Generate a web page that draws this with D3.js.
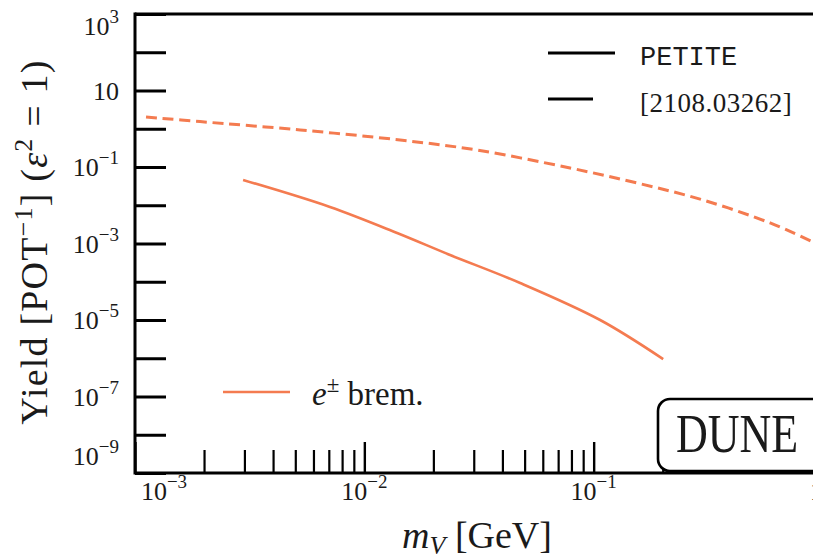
<!DOCTYPE html>
<html>
<head>
<meta charset="utf-8">
<script src="https://cdn.jsdelivr.net/npm/d3@7"></script>
<style>
  html, body { margin: 0; padding: 0; background: #fff; }
  svg { display: block; }
  text { font-family: "Liberation Serif", "DejaVu Serif", serif; fill: #1a1a1a; }
</style>
</head>
<body>
<svg id="chart" width="813" height="559"></svg>
<script>
// ---- data ----
const dashedMass  = [1.117e-3, 1.92e-3, 5.25e-3, 0.01432, 0.0310, 0.0789, 0.1546, 0.300, 0.588, 0.906, 1.0];
const dashedYield = [2.03, 1.54, 0.93, 0.508, 0.278, 0.0942, 0.0382, 0.0137, 3.44e-3, 1.09e-3, 8.0e-4];
const bremMass    = [2.96e-3, 7.08e-3, 0.0139, 0.02366, 0.0478, 0.1067, 0.201];
const bremYield   = [0.0457, 9.0e-3, 1.88e-3, 5.0e-4, 9.27e-5, 1.0e-5, 9.5e-7];
const yTickExps   = [3, 2, 1, 0, -1, -2, -3, -4, -5, -6, -7, -8, -9];
const yLabelExps  = [3, 1, -1, -3, -5, -7, -9];
const xMajorExps  = [-3, -2, -1, 0];
const xMinorMult  = [2, 3, 4, 5, 6, 7, 8, 9];
const legendLabels = ["PETITE", "[2108.03262]"];
const seriesLabel = "brem.";
const detector = "DUNE";

const ORANGE = "#f47b50";
const svg = d3.select("#chart");
svg.append("rect").attr("width", 813).attr("height", 559).attr("fill", "#fff");

const L = 135, R = 823, T = 14, B = 473;
const x = d3.scaleLog().domain([1e-3, 1]).range([L, R]);
const y = d3.scaleLog().domain([1e-9, 1e3]).range([B, T]);

// ---- curves ----
const line = d3.line().x(d => x(d[0])).y(d => y(d[1])).curve(d3.curveCatmullRom.alpha(0.5));
svg.append("path")
  .datum(dashedMass.map((m, i) => [m, dashedYield[i]]))
  .attr("d", line).attr("fill", "none").attr("stroke", ORANGE)
  .attr("stroke-width", 3).attr("stroke-dasharray", "11,5.7");
svg.append("path")
  .datum(bremMass.map((m, i) => [m, bremYield[i]]))
  .attr("d", line).attr("fill", "none").attr("stroke", ORANGE)
  .attr("stroke-width", 2.6);

// ---- axes ticks ----
const yAxis = d3.axisLeft(y).tickValues(yTickExps.map(e => Math.pow(10, e)))
  .tickSize(-31).tickFormat("");
const gy = svg.append("g").attr("transform", `translate(${L},0)`).call(yAxis);
gy.select(".domain").remove();
gy.selectAll(".tick line").attr("stroke", "#000").attr("stroke-width", 3);

const minorVals = [];
[-3, -2, -1].forEach(e => xMinorMult.forEach(k => minorVals.push(k * Math.pow(10, e))));
const gxm = svg.append("g").attr("transform", `translate(0,${B})`)
  .call(d3.axisBottom(x).tickValues(minorVals).tickSize(-23).tickFormat(""));
gxm.select(".domain").remove();
gxm.selectAll(".tick line").attr("stroke", "#000").attr("stroke-width", 2.2);
const gxM = svg.append("g").attr("transform", `translate(0,${B})`)
  .call(d3.axisBottom(x).tickValues(xMajorExps.map(e => Math.pow(10, e))).tickSize(-31).tickFormat(""));
gxM.select(".domain").remove();
gxM.selectAll(".tick line").attr("stroke", "#000").attr("stroke-width", 2.4);

// ---- frame ----
const frame = svg.append("g").attr("stroke", "#000").attr("stroke-width", 3).attr("fill", "none");
frame.append("line").attr("x1", L).attr("x2", L).attr("y1", T - 1.5).attr("y2", B + 1.5);
frame.append("line").attr("x1", L).attr("x2", R).attr("y1", B).attr("y2", B);
frame.append("line").attr("x1", L).attr("x2", R).attr("y1", T).attr("y2", T);
frame.append("line").attr("x1", R).attr("x2", R).attr("y1", T).attr("y2", B);

// ---- tick labels ----
function powLabel(sel, e) {
  sel.append("tspan").text("10");
  if (e !== 1) {
    sel.append("tspan").attr("dy", -12).attr("font-size", 19)
       .text(e < 0 ? "\u2212" + (-e) : String(e));
  }
}
yLabelExps.forEach(e => {
  let ty = y(Math.pow(10, e)) + 9;
  ty = Math.min(Math.max(ty, 35), 465);
  const t = svg.append("text").attr("x", 119).attr("y", ty)
    .attr("text-anchor", "end").attr("font-size", 26);
  powLabel(t, e);
});
xMajorExps.forEach(e => {
  let tx = x(Math.pow(10, e));
  if (e === -3) tx = tx + 29;
  const t = svg.append("text").attr("x", e === 0 ? tx - 13 : tx).attr("y", 500)
    .attr("text-anchor", e === 0 ? "start" : "middle").attr("font-size", 26);
  powLabel(t, e);
});

// ---- axis titles ----
const yt = svg.append("text").attr("transform", "translate(47,242) rotate(-90)")
  .attr("text-anchor", "middle").attr("font-size", 38).attr("letter-spacing", 1.2);
yt.append("tspan").text("Yield [POT");
yt.append("tspan").attr("dy", -15).attr("font-size", 26).text("\u22121");
yt.append("tspan").attr("dy", 15).text("] (");
yt.append("tspan").attr("font-style", "italic").text("\u03b5");
yt.append("tspan").attr("dy", -15).attr("font-size", 26).text("2");
yt.append("tspan").attr("dy", 15).text(" = 1)");

const xt = svg.append("text").attr("x", 477).attr("y", 548)
  .attr("text-anchor", "middle").attr("font-size", 38);
xt.append("tspan").attr("font-style", "italic").text("m");
xt.append("tspan").attr("dy", 6).attr("font-size", 26).attr("font-style", "italic").text("V");
xt.append("tspan").attr("dy", -6).text(" [GeV]");

// ---- legend (top right) ----
svg.append("line").attr("x1", 548).attr("x2", 615).attr("y1", 53).attr("y2", 53)
  .attr("stroke", "#000").attr("stroke-width", 3);
svg.append("line").attr("x1", 548).attr("x2", 615).attr("y1", 99).attr("y2", 99)
  .attr("stroke", "#000").attr("stroke-width", 3).attr("stroke-dasharray", "45,40");
svg.append("text").attr("x", 640).attr("y", 65).attr("font-size", 27)
  .style("font-family", "'Liberation Mono', 'DejaVu Sans Mono', monospace").text(legendLabels[0]);
svg.append("text").attr("x", 640).attr("y", 112).attr("font-size", 27).attr("letter-spacing", 0.5)
  .text(legendLabels[1]);

// ---- legend (bottom left) ----
svg.append("line").attr("x1", 223).attr("x2", 290).attr("y1", 392).attr("y2", 392)
  .attr("stroke", ORANGE).attr("stroke-width", 2.6);
const lt = svg.append("text").attr("x", 312).attr("y", 405).attr("font-size", 33);
lt.append("tspan").attr("font-style", "italic").text("e");
lt.append("tspan").attr("dy", -13).attr("font-size", 23).text("\u00b1");
lt.append("tspan").attr("dy", 13).text(" " + seriesLabel);

// ---- detector box ----
svg.append("rect").attr("x", 658).attr("y", 399).attr("width", 190).attr("height", 72)
  .attr("rx", 12).attr("fill", "#fff").attr("stroke", "#000").attr("stroke-width", 2.6);
svg.append("text").attr("transform", "translate(676,452) scale(1,1.25)")
  .attr("font-size", 44).text(detector);
</script>
</body>
</html>
